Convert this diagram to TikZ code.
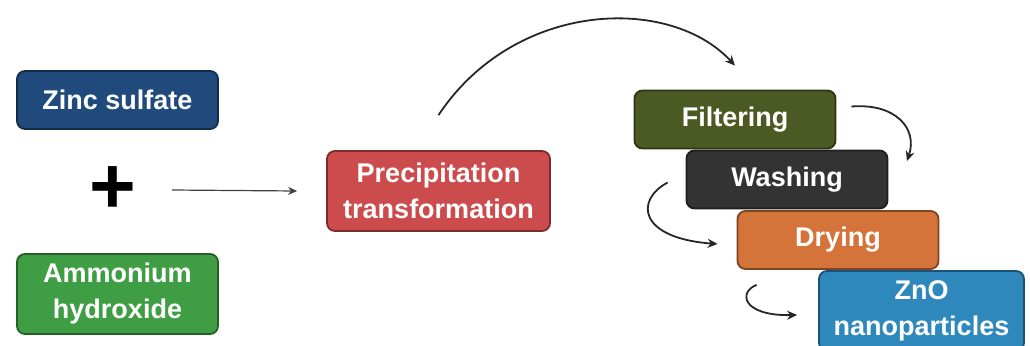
\documentclass[tikz,border=0pt]{standalone}
\usepackage{fontspec}
\setmainfont{Liberation Sans}
\usetikzlibrary{arrows.meta,positioning}

\definecolor{zincblue}{HTML}{1F4A7B}
\definecolor{ammgreen}{HTML}{3F9E43}
\definecolor{precred}{HTML}{CC4B4C}
\definecolor{filtolive}{HTML}{4B5A22}
\definecolor{washgray}{HTML}{333333}
\definecolor{dryorange}{HTML}{D4733A}
\definecolor{znoblue}{HTML}{2E88BC}

\begin{document}
\begin{tikzpicture}[
  x=0.5pt, y=-0.5pt,
  step box/.style={draw=#1!60!black, fill=#1, rounded corners=4pt, line width=0.9pt,
    text=white, align=center, font=\fontsize{13.5}{18}\selectfont\bfseries,
    minimum width=100.5pt, minimum height=29pt, inner sep=2pt},
  tall/.style={minimum height=40pt},
  arrow/.style={-{Stealth[length=5pt,width=4.5pt]}, line width=0.9pt, draw=black!85},
  thinarrow/.style={-{Stealth[length=4.5pt,width=4pt]}, line width=0.6pt, draw=black!75}
]
\useasboundingbox (0,0) rectangle (1030,345);

\node[step box=zincblue] (zinc) at (117.5,100) {Zinc sulfate};
\node[step box=ammgreen, tall] (ammonium) at (117.5,294) {Ammonium\\hydroxide};
\node[font=\fontsize{40}{40}\selectfont\bfseries, inner sep=0pt] (plus) at (113,190) {+};

\node[step box=precred, tall, minimum width=111.5pt] (precip) at (438.5,191) {Precipitation\\transformation};

\node[step box=filtolive] (filter) at (735,119.5) {Filtering};
\node[step box=washgray] (wash) at (787,179.5) {Washing};
\node[step box=dryorange] (dry) at (838,240) {Drying};
\node[step box=znoblue, tall, minimum width=102.5pt] (zno) at (921.5,311) {ZnO\\nanoparticles};

\draw[thinarrow] ([xshift=29.5pt]plus.center) -- ([xshift=-14.5pt]precip.west);
\draw[arrow] ([yshift=17.5pt]precip.north) .. controls (515,0) and (670,-5) .. ([yshift=12pt]filter.north);
\draw[arrow] ([shift={(15,-13)}]filter.east) .. controls (895,103) and (918,128) .. (907,161);
\draw[arrow] ([shift={(-18,3)}]wash.west) .. controls (635,200) and (638,238) .. ([shift={(-19,4)}]dry.west);
\draw[arrow] ([shift={(20,15)}]dry.south west) .. controls (738,292) and (742,316) .. ([shift={(-21,4)}]zno.west);
\end{tikzpicture}
\end{document}
